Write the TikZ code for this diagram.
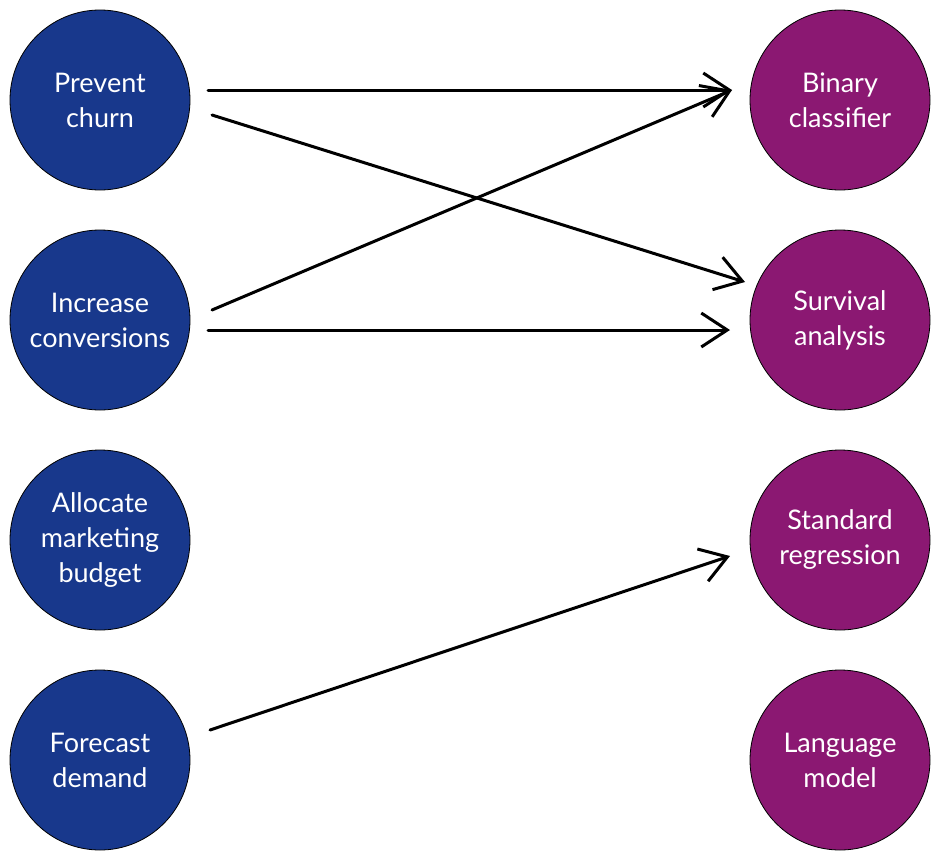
\documentclass[tikz,border=0pt]{standalone}
\usepackage{fontspec}
\setmainfont{Lato}
\usetikzlibrary{arrows.meta}
\definecolor{goalblue}{RGB}{24,56,140}
\definecolor{modelpurple}{RGB}{139,24,114}
\tikzset{
  goal/.style={circle, draw=black, line width=0.8pt, fill=goalblue, minimum size=180pt, inner sep=0pt, text=white, align=center, font=\fontsize{27}{35}\selectfont},
  model/.style={circle, draw=black, line width=0.8pt, fill=modelpurple, minimum size=180pt, inner sep=0pt, text=white, align=center, font=\fontsize{27}{35}\selectfont},
  link/.style={line width=3pt, line cap=round, -{Straight Barb[length=26pt,width=34pt,line width=3pt]}}
}
\begin{document}
\begin{tikzpicture}[x=1pt,y=-1pt]
\useasboundingbox (0,0) rectangle (940,860);
\node[goal] (churn) at (100,100) {Prevent\\churn};
\node[goal] (conv) at (100,320) {Increase\\conversions};
\node[goal] (budget) at (100,540) {Allocate\\marketing\\budget};
\node[goal] (demand) at (100,760) {Forecast\\demand};
\node[model] (binary) at (840,100) {Binary\\classifier};
\node[model] (surv) at (840,320) {Survival\\analysis};
\node[model] (reg) at (840,540) {Standard\\regression};
\node[model] (lang) at (840,760) {Language\\model};
\coordinate (c1) at (208,90);
\coordinate (c2) at (212,115);
\coordinate (c3) at (212,310);
\coordinate (c4) at (208,330);
\coordinate (c5) at (210,730);
\coordinate (b1) at (732,90);
\coordinate (s1) at (745,282);
\coordinate (s2) at (730,330);
\coordinate (r1) at (730,556);
\draw[link] (c1) -- (b1);
\draw[link] (c2) -- (s1);
\draw[link] (c3) -- (b1);
\draw[link] (c4) -- (s2);
\draw[link] (c5) -- (r1);
\end{tikzpicture}
\end{document}
